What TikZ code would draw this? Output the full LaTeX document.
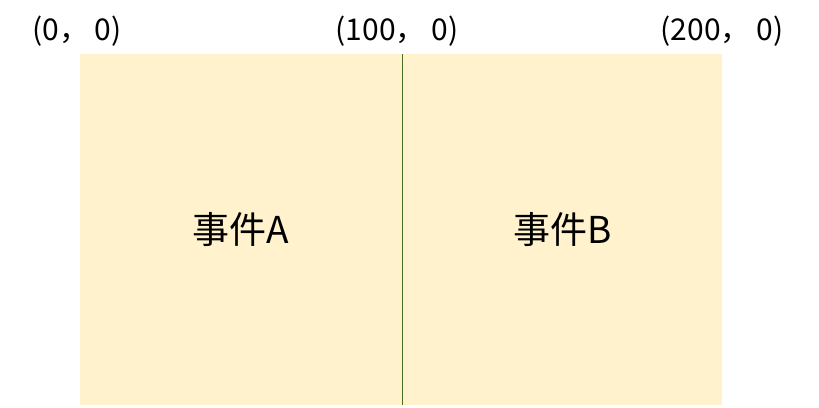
\documentclass[tikz,border=0pt]{standalone}
\usepackage{fontspec}
\setmainfont{Noto Sans CJK SC}
\definecolor{evfill}{HTML}{FFF2CC}
\definecolor{divline}{HTML}{4A6E20}
\newcommand{\cm}{，\hspace{0.2em}}
\begin{document}
\begin{tikzpicture}[x=1pt,y=-1pt,
  evbox/.style={fill=evfill,draw=none,minimum width=322pt,minimum height=351pt,inner sep=0pt,font=\fontsize{37}{40}\selectfont},
  coord/.style={font=\fontsize{30}{33}\selectfont,inner sep=0pt}]
\useasboundingbox (0,0) rectangle (819,407);
\node[evbox,anchor=north west] (a) at (80,54) {事件A};
\node[evbox,minimum width=320pt,anchor=north west] (b) at (402,54) {事件B};
\draw[divline,line width=0.8pt] (a.north east) -- (a.south east);
\node[coord] (c0) at (77,31) {(0\cm 0)};
\node[coord] (c1) at (397,31) {(100\cm 0)};
\node[coord] (c2) at (722,31) {(200\cm 0)};
\end{tikzpicture}
\end{document}
